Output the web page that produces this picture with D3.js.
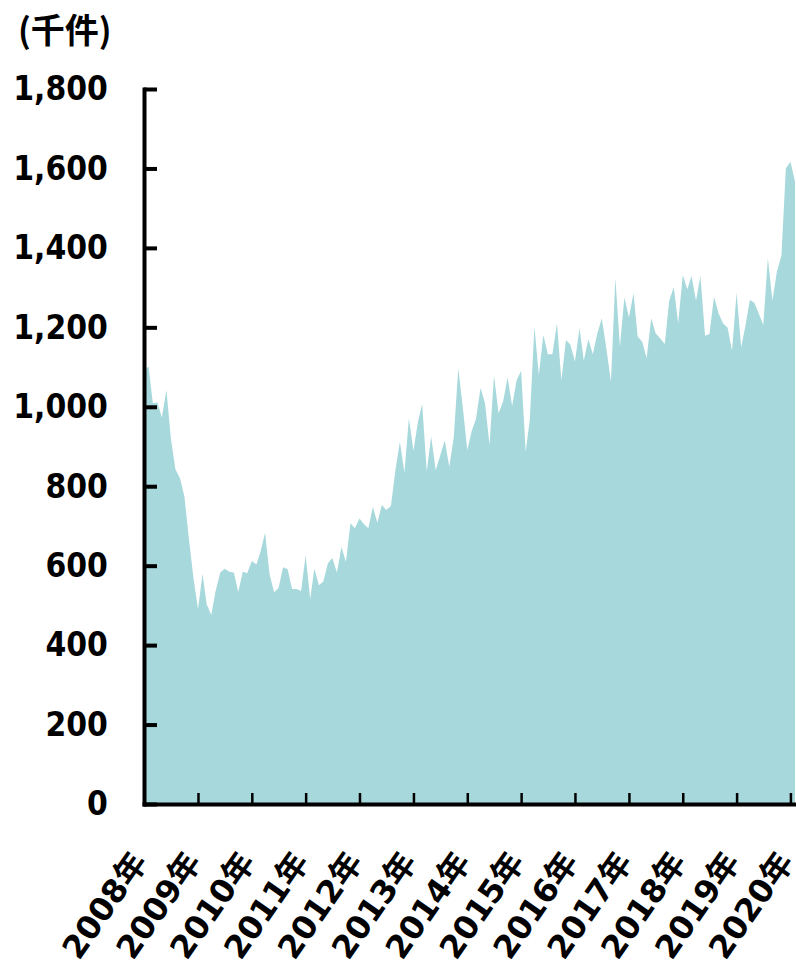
<!DOCTYPE html>
<html><head><meta charset="utf-8">
<script src="https://cdn.jsdelivr.net/npm/d3@7"></script>
<style>body{margin:0;background:#fff}</style>
</head><body><svg id="c" width="796" height="966"></svg>
<script>
const unitLabel = "(千件)";
const yearLabels = ["2008年","2009年","2010年","2011年","2012年","2013年","2014年","2015年","2016年","2017年","2018年","2019年","2020年"];
const yTicks = [0,200,400,600,800,1000,1200,1400,1600,1800];
// monthly values, Jan 2008 – Feb 2020 (thousand cases)
const values = [
1093,1101,1009,1011,973,1042,921,843,820,774,665,570,
490,579,503,476,537,583,592,585,583,534,585,581,
612,603,635,683,579,533,543,596,591,541,541,536,
626,516,593,551,560,606,619,583,647,609,707,694,
719,704,694,748,708,753,740,750,841,912,834,971,
889,963,1007,837,925,840,877,915,849,922,1097,1000,
891,940,969,1047,1009,904,1078,984,1013,1074,1002,1066,
1091,887,968,1202,1080,1181,1132,1132,1210,1066,1168,1156,
1114,1198,1116,1170,1132,1185,1223,1147,1063,1324,1151,1276,
1225,1286,1177,1164,1122,1223,1185,1172,1158,1267,1301,1210,
1332,1296,1329,1267,1329,1179,1183,1277,1235,1210,1199,1141,
1287,1150,1202,1269,1262,1234,1206,1374,1267,1340,1380,1600,
1617,1567
];

const svg = d3.select("#c");
const X0 = 144, X1 = 795, Y0 = 804, Y1 = 89;
const months = values.map((v,i)=> new Date(2008, i, 1));
const yearDates = yearLabels.map((s,i)=> new Date(2008 + i, 0, 1));

const x = d3.scaleTime().domain([months[0], months[months.length-1]]).range([X0, X1]);
const y = d3.scaleLinear().domain([0, 1800]).range([Y0, Y1]);

svg.append("path").datum(values)
  .attr("fill", "#a6d8dc")
  .attr("d", d3.area().x((d,i)=>x(months[i])).y0(y(0)).y1(d=>y(d)));

const fontLatin = "'DejaVu Sans', 'Noto Sans CJK JP', sans-serif";

// y axis
const gy = svg.append("g").attr("transform", `translate(${X0},0)`)
  .call(d3.axisLeft(y).tickValues(yTicks).tickSizeInner(-13).tickSizeOuter(0)
        .tickPadding(41).tickFormat(d3.format(",")));
gy.attr("font-family", fontLatin).attr("font-size", 34).attr("font-weight", "bold");
gy.select(".domain").attr("stroke", "#000").attr("stroke-width", 4).attr("stroke-linecap", "square");
gy.selectAll(".tick line").attr("stroke", "#000").attr("stroke-width", 4);
gy.selectAll(".tick text").attr("fill", "#000").attr("transform", "scale(0.88,1)");

// x axis
const gx = svg.append("g").attr("transform", `translate(0,${Y0})`)
  .call(d3.axisBottom(x).tickValues(yearDates).tickSizeInner(-11).tickSizeOuter(0)
        .tickFormat((d,i)=>yearLabels[i]));
gx.attr("font-family", fontLatin).attr("font-size", 32).attr("font-weight", "bold");
gx.select(".domain").attr("stroke", "#000").attr("stroke-width", 4).attr("stroke-linecap", "square");
gx.selectAll(".tick line").attr("stroke", "#000").attr("stroke-width", 2.5);
gx.selectAll(".tick text")
  .attr("fill", "#000").attr("x", 0).attr("y", 0).attr("dy", 0)
  .attr("text-anchor", "end")
  .attr("transform", "translate(4,58) rotate(-55)");

// unit label
svg.append("text").attr("x", 18).attr("y", 43)
  .attr("font-family", "'Noto Sans CJK JP', sans-serif")
  .attr("font-weight", "bold").attr("font-size", 34).attr("fill", "#000")
  .text(unitLabel);
</script>
</body></html>
